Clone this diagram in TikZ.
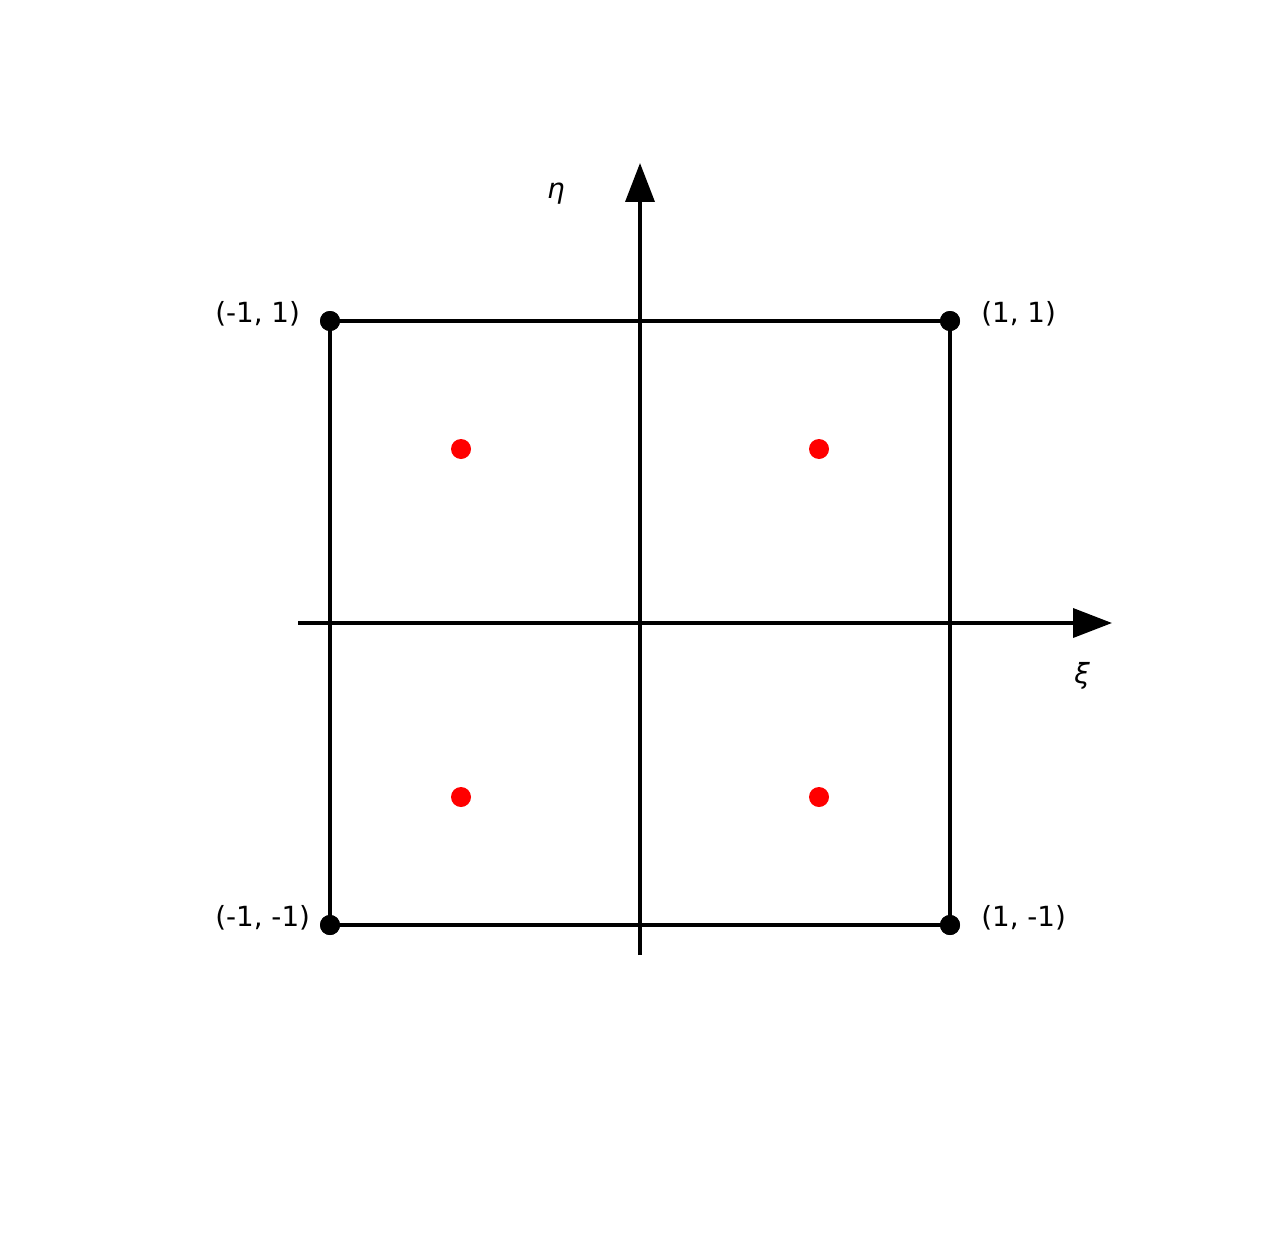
\documentclass[tikz,border=0pt]{standalone}
\usepackage{fontspec}
\setmainfont{DejaVu Sans}
\usetikzlibrary{arrows.meta}
\begin{document}
\begin{tikzpicture}[x=0.02cm,y=-0.02cm,
  axis/.style={line width=2.1pt, -{Triangle[length=0.78cm,width=0.58cm]}},
  edge/.style={line width=2.1pt},
  corner/.style={circle, fill=black, inner sep=0pt, minimum size=0.4cm},
  gauss/.style={circle, fill=red, inner sep=0pt, minimum size=0.4cm},
  lbl/.style={inner sep=0pt, font=\fontsize{15.8}{19}\selectfont}]
\useasboundingbox (0,0) rectangle (1280,1247);
% axes
\coordinate (xs) at (298,623);
\coordinate (xe) at (1112,623);
\coordinate (ys) at (640,955);
\coordinate (ye) at (640,163);
\draw[axis] (xs) -- (xe);
\draw[axis] (ys) -- (ye);
% corners
\node[corner] (c1) at (330,321) {};
\node[corner] (c2) at (950,321) {};
\node[corner] (c3) at (950,925) {};
\node[corner] (c4) at (330,925) {};
\draw[edge] (c1.center) -- (c2.center) -- (c3.center) -- (c4.center) -- cycle;
\node[corner] at (c1) {};
\node[corner] at (c2) {};
\node[corner] at (c3) {};
\node[corner] at (c4) {};
% gauss points
\node[gauss] (g1) at (461,449) {};
\node[gauss] (g2) at (819,449) {};
\node[gauss] (g3) at (461,797) {};
\node[gauss] (g4) at (819,797) {};
% labels
\node[lbl, anchor=west] (l1) at (215,314) {(-1, 1)};
\node[lbl, anchor=west] (l2) at (981,314) {(1, 1)};
\node[lbl, anchor=west] (l3) at (215,918) {(-1, -1)};
\node[lbl, anchor=west] (l4) at (981,918) {(1, -1)};
\node[lbl] (eta) at (556,194) {\itshape η};
\node[lbl] (xi) at (1082,676) {\itshape ξ};
\end{tikzpicture}
\end{document}
